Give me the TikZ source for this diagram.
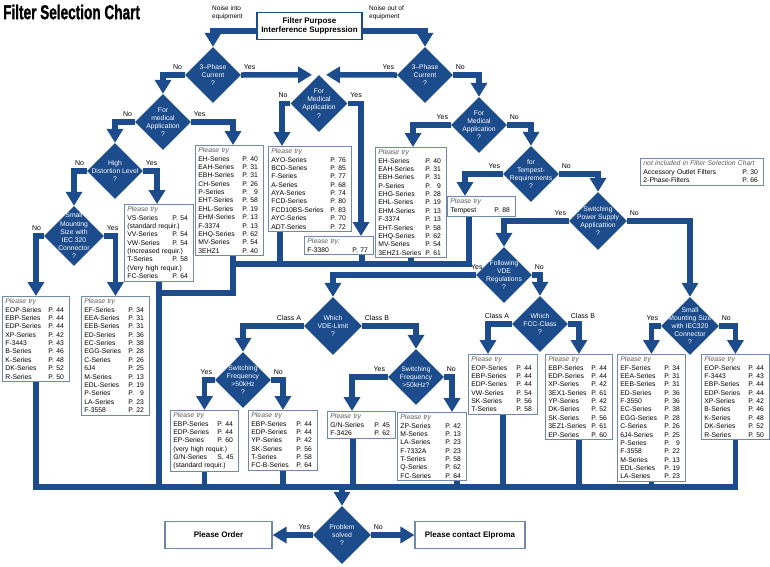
\documentclass[tikz,border=0pt]{standalone}
\usepackage{fontspec}
\setmainfont{Liberation Sans}
\newfontfamily\titlefont{Liberation Sans}[BoldFeatures={FakeBold=1.4}]
\usetikzlibrary{shapes.geometric, arrows.meta, calc}
\definecolor{chart-blue}{RGB}{28,76,140}
\definecolor{frame-blue}{RGB}{112,136,170}
\definecolor{try-gray}{RGB}{90,90,90}

% list entries of the result boxes
\newcommand\ptry[1][Please try]{\noindent{\color{try-gray}\itshape #1}}
\newcommand\ser[2]{\par\noindent\makebox[\linewidth][l]{#1\hfill\makebox[18pt][l]{#2}}}
\newcommand\xline[1]{\par\noindent #1}

\begin{document}
\begin{tikzpicture}[
    x=1pt, y=-1pt,
    % decision diamonds, text set as a centred label so the size stays fixed
    dia/.style={diamond, fill=chart-blue, inner sep=0pt, minimum width=#1, minimum height=#1},
    dia/.default=56pt,
    dtxt/.style={text=white, align=center, inner sep=0pt, font=\fontsize{6.8}{8.2}\selectfont},
    trybox/.style={draw=frame-blue, line width=0.9pt, fill=white, anchor=north west,
                   inner xsep=3pt, inner ysep=2.5pt, text width=#1, font=\fontsize{6.8}{8.35}\selectfont},
    yn/.style={font=\fontsize{7}{8}\selectfont, inner sep=0.5pt},
    bus/.style={draw=chart-blue, line width=5.5pt, line join=miter},
    arr/.style={bus, -{Triangle[width=16pt,length=14pt]}},
    endbox/.style={draw=frame-blue, line width=1.2pt, fill=white, minimum width=107pt, minimum height=27pt,
                   font=\fontsize{8}{9.6}\selectfont\bfseries}
]

\fill[white] (0,0) rectangle (770,566);
\useasboundingbox (0,0) rectangle (770,566);

% ===== HEAD =====
\node[anchor=west, inner sep=0pt, font=\titlefont\fontsize{20}{20}\selectfont\bfseries] (title) at (3,12)
    {\scalebox{0.68}[1]{Filter Selection Chart}};
\node[draw=chart-blue, line width=1.2pt, fill=white, minimum width=105pt, minimum height=27pt,
      align=center, inner sep=1pt, font=\fontsize{8}{9.4}\selectfont\bfseries] (purpose) at (309.5,26)
    {Filter Purpose\\Interference Suppression};
\node[anchor=west, align=left, inner sep=0pt, font=\fontsize{6.5}{7.5}\selectfont] (noisein) at (212,13) {Noise into\\equipment};
\node[anchor=west, align=left, inner sep=0pt, font=\fontsize{6.5}{7.5}\selectfont] (noiseout) at (369,13) {Noise out of\\equipment};

% ===== DECISIONS =====
\node[dia, label={[dtxt]center:3–Phase\\Current\\?}] (d1) at (213,75) {};
\node[dia, label={[dtxt]center:3–Phase\\Current\\?}] (dr1) at (425,75) {};
\node[dia=57pt, label={[dtxt]center:For\\Medical\\Application\\?}] (dm) at (319,103.5) {};
\node[dia, label={[dtxt]center:For\\medical\\Application\\?}] (d2) at (163,122) {};
\node[dia, label={[dtxt]center:High\\Distortion Level\\?}] (d3) at (115,171) {};
\node[dia=60pt, label={[dtxt]center:Small\\Mounting\\Size with\\IEC 320\\Connector\\?}] (d4) at (74,236) {};
\node[dia, label={[dtxt]center:For\\Medical\\Application\\?}] (dr2) at (479,125) {};
\node[dia, label={[dtxt]center:for\\Tempest-\\Requirements\\?}] (dr3) at (531,174) {};
\node[dia=58pt, label={[dtxt]center:Switching\\Power Supply\\Applicattion\\?}] (dr4) at (598,221) {};
\node[dia, label={[dtxt]center:Following\\VDE\\Regulations\\?}] (dr5) at (504,275) {};
\node[dia, label={[dtxt]center:Which\\FCC-Class\\?}] (dr6) at (540,324) {};
\node[dia=58pt, label={[dtxt]center:Small\\Mounting Size\\with IEC320\\Connector\\?}] (dmount) at (690,326) {};
\node[dia=58pt, label={[dtxt]center:Which\\VDE-Limit\\?}] (dvl) at (333,326) {};
\node[dia, label={[dtxt]center:Switching\\Frequency\\>50kHz\\?}] (dsf1) at (243,380) {};
\node[dia, label={[dtxt]center:Switching\\Frequency\\>50kHz?}] (dsf2) at (416,377) {};
\node[dia=58pt, label={[dtxt]center:Problem\\solved\\?}] (dps) at (342,535) {};

% branch labels
\foreach \d/\lw/\le in {d1/No/Yes, dr1/Yes/No, dm/No/Yes, d2/No/Yes, d3/No/Yes, d4/No/Yes,
                        dr2/Yes/No, dr3/Yes/No, dr4/Yes/No, dr6/Class A/Class B,
                        dmount/Yes/No, dvl/Class A/Class B, dsf1/Yes/No, dsf2/Yes/No, dps/Yes/No} {
    \node[yn, anchor=south east] (\d-w) at ([xshift=-2pt,yshift=5pt]\d.west) {\lw};
    \node[yn, anchor=south west] (\d-e) at ([xshift=2pt,yshift=5pt]\d.east) {\le};
}
\node[yn, anchor=south] (dr5-w) at ([xshift=1pt,yshift=5pt]dr5.west) {Yes};
\node[yn, anchor=south west] (dr5-e) at ([xshift=2pt,yshift=5pt]dr5.east) {No};

% ===== RESULT BOXES =====
\node[trybox=62pt] (ehl) at (195,145) {\ptry
    \ser{EH-Series}{P. 40}\ser{EAH-Series}{P. 31}\ser{EBH-Series}{P. 31}\ser{CH-Series}{P. 26}
    \ser{P-Series}{P. \phantom{0}9}\ser{EHT-Series}{P. 58}\ser{EHL-Series}{P. 19}\ser{EHM-Series}{P. 13}
    \ser{F-3374}{P. 13}\ser{EHQ-Series}{P. 62}\ser{MV-Series}{P. 54}\ser{3EHZ1}{P. 40}};
\node[trybox=77pt] (ayo) at (268,146) {\ptry
    \ser{AYO-Series}{P. 76}\ser{BCD-Series}{P. 85}\ser{F-Series}{P. 77}\ser{A-Series}{P. 68}
    \ser{AYA-Series}{P. 74}\ser{FCD-Series}{P. 80}\ser{FCD10BS-Series}{P. 83}\ser{AYC-Series}{P. 70}
    \ser{ADT-Series}{P. 72}};
\node[trybox=63pt] (f3380) at (304,236) {\ptry[Please try:]\ser{F-3380}{P. 77}};
\node[trybox=65pt] (ehr) at (375,147) {\ptry
    \ser{EH-Series}{P. 40}\ser{EAH-Series}{P. 31}\ser{EBH-Series}{P. 31}\ser{P-Series}{P. \phantom{0}9}
    \ser{EHG-Series}{P. 28}\ser{EHL-Series}{P. 19}\ser{EHM-Series}{P. 13}\ser{F-3374}{P. 13}
    \ser{EHT-Series}{P. 58}\ser{EHQ-Series}{P. 62}\ser{MV-Series}{P. 54}\ser{3EHZ1-Series}{P. 61}};
\node[trybox=62pt] (tmp) at (447,196) {\ptry\ser{Tempest}{P. 88}};
\node[trybox=63pt] (vs) at (124,204) {\ptry
    \ser{VS-Series}{P. 54}\xline{(standard requir.)}\ser{VV-Series}{P. 54}\ser{VW-Series}{P. 54}
    \xline{(Increased requir.)}\ser{T-Series}{P. 58}\xline{(Very high requir.)}\ser{FC-Series}{P. 64}};
\node[trybox=61pt] (eopl) at (2,296) {\ptry
    \ser{EOP-Series}{P. 44}\ser{EBP-Series}{P. 44}\ser{EDP-Series}{P. 44}\ser{XP-Series}{P. 42}
    \ser{F-3443}{P. 43}\ser{B-Series}{P. 46}\ser{K-Series}{P. 48}\ser{DK-Series}{P. 52}\ser{R-Series}{P. 50}};
\node[trybox=62pt] (efl) at (81,296) {\ptry
    \ser{EF-Series}{P. 34}\ser{EEA-Series}{P. 31}\ser{EEB-Series}{P. 31}\ser{ED-Series}{P. 36}
    \ser{EC-Series}{P. 38}\ser{EGG-Series}{P. 28}\ser{C-Series}{P. 26}\ser{6J4}{P. 25}\ser{M-Series}{P. 13}
    \ser{EDL-Series}{P. 19}\ser{P-Series}{P. \phantom{0}9}\ser{LA-Series}{P. 23}\ser{F-3558}{P. 22}};
\node[trybox=62pt] (ebp1) at (170,410) {\ptry
    \ser{EBP-Series}{P. 44}\ser{EDP-Series}{P. 44}\ser{EP-Series}{P. 60}\xline{(very high requir.)}
    \ser{G/N-Series}{S. 45}\xline{(standard requir.)}};
\node[trybox=63pt] (ebp2) at (248,410) {\ptry
    \ser{EBP-Series}{P. 44}\ser{EDP-Series}{P. 44}\ser{YP-Series}{P. 42}\ser{SK-Series}{P. 56}
    \ser{T-Series}{P. 58}\ser{FC-B-Series}{P. 64}};
\node[trybox=62pt] (gn) at (327,411) {\ptry\ser{G/N-Series}{P. 45}\ser{F-3426}{P. 62}};
\node[trybox=63pt] (zp) at (397,412) {\ptry
    \ser{ZP-Series}{P. 42}\ser{M-Series}{P. 13}\ser{LA-Series}{P. 23}\ser{F-7332A}{P. 23}
    \ser{T-Series}{P. 58}\ser{Q-Series}{P. 62}\ser{FC-Series}{P. 64}};
\node[trybox=63pt] (eopm) at (468,354) {\ptry
    \ser{EOP-Series}{P. 44}\ser{EBP-Series}{P. 44}\ser{EDP-Series}{P. 44}\ser{VW-Series}{P. 54}
    \ser{SK-Series}{P. 56}\ser{T-Series}{P. 58}};
\node[trybox=61pt] (ebprm) at (545,354) {\ptry
    \ser{EBP-Series}{P. 44}\ser{EDP-Series}{P. 44}\ser{XP-Series}{P. 42}\ser{3EX1-Series}{P. 61}
    \ser{YP-Series}{P. 42}\ser{DK-Series}{P. 52}\ser{SK-Series}{P. 56}\ser{3EZ1-Series}{P. 61}\ser{EP-Series}{P. 60}};
\node[trybox=62pt] (efr) at (617,354) {\ptry
    \ser{EF-Series}{P. 34}\ser{EEA-Series}{P. 31}\ser{EEB-Series}{P. 31}\ser{ED-Series}{P. 36}
    \ser{F-3550}{P. 36}\ser{EC-Series}{P. 38}\ser{EGG-Series}{P. 28}\ser{C-Series}{P. 26}
    \ser{6J4-Series}{P. 25}\ser{P-Series}{P. \phantom{0}9}\ser{F-3558}{P. 22}\ser{M-Series}{P. 13}
    \ser{EDL-Series}{P. 19}\ser{LA-Series}{P. 23}};
\node[trybox=62pt] (eopr) at (701,354) {\ptry
    \ser{EOP-Series}{P. 44}\ser{F-3443}{P. 43}\ser{EBP-Series}{P. 44}\ser{EDP-Series}{P. 44}
    \ser{XP-Series}{P. 42}\ser{B-Series}{P. 46}\ser{K-Series}{P. 48}\ser{DK-Series}{P. 52}\ser{R-Series}{P. 50}};

% side note
\node[trybox=117pt] (extra) at (640,158) {\ptry[not included in Filter Selection Chart]
    \ser{Accessory Outlet Filters}{P. 30}\ser{2-Phase-Filters}{P. 66}};

% final answers
\node[endbox] (order) at (218.5,535) {Please Order};
\node[endbox, minimum width=110pt] (contact) at (470,535) {Please contact Elproma};

% ===== DECISION ARROWS =====
\draw[arr] ([yshift=-5pt]purpose.west) -| (d1.north);
\draw[arr] ([yshift=-5pt]purpose.east) -| (dr1.north);
\draw[arr] (d1.east) -- ([xshift=-7pt]dm.north);
\draw[arr] (dr1.west) -- ([xshift=7pt]dm.north);
\draw[arr] (d1.west) -| (d2.north);
\draw[arr] (dr1.east) -| (dr2.north);
\draw[arr] (dm.west) -| ([xshift=14pt]ayo.north west);
\draw[arr] (dm.east) -| ([xshift=57pt]f3380.north west);
\draw[arr] (d2.west) -| (d3.north);
\draw[arr] (d2.east) -| ([xshift=38pt]ehl.north west);
\draw[arr] (d3.west) -| (d4.north);
\draw[arr] (d3.east) -| ([xshift=33pt]vs.north west);
\draw[arr] (d4.west) -| (eopl.north);
\draw[arr] (d4.east) -| (efl.north);
\draw[arr] (dr2.west) -| ([xshift=38pt]ehr.north west);
\draw[arr] (dr2.east) -| (dr3.north);
\draw[arr] (dr3.west) -| ([xshift=18pt]tmp.north west);
\draw[arr] (dr3.east) -| (dr4.north);
\draw[arr] (dr4.west) -| (dr5.north);
\draw[arr] (dr4.east) -| (dmount.north);
\draw[arr] (dr5.east) -| (dr6.north);
\draw[arr] (dr5.west) -| (dvl.north);
\draw[arr] (dr6.west) -| ([xshift=20pt]eopm.north west);
\draw[arr] (dr6.east) -| (ebprm.north);
\draw[arr] (dmount.west) -| (efr.north);
\draw[arr] (dmount.east) -| (eopr.north);
\draw[arr] (dvl.west) -| (dsf1.north);
\draw[arr] (dvl.east) -| (dsf2.north);
\draw[arr] (dsf1.west) -| (ebp1.north);
\draw[arr] (dsf1.east) -| (ebp2.north);
\draw[arr] (dsf2.west) -| ([xshift=25pt]gn.north west);
\draw[arr] (dsf2.east) -| ([xshift=55pt]zp.north west);

% ===== COLLECTING LINES =====
\coordinate (j1) at (233,264);
\coordinate (j2) at (233,293);
\coordinate (drop) at (342,487);

\draw[bus] ([xshift=22pt]tmp.south west) |- (j1) -- (j2) -| (vs.south);
\draw[bus] ([xshift=38pt]ehl.south west) |- (j1);
\draw[bus] ([xshift=12pt]ayo.south west) |- (j1);
\draw[bus] ([xshift=58pt]f3380.south west) |- (j1);
\draw[bus] (ehr.south) |- (j1);

\draw[bus] (eopl.south) |- (drop) -| (eopr.south);
\draw[bus] (vs.south) |- (drop);
\draw[bus] (ebp1.south) |- (drop);
\draw[bus] (ebp2.south) |- (drop);
\draw[bus] ([xshift=26pt]gn.south west) |- (drop);
\draw[bus] ([xshift=60pt]zp.south west) |- (drop);
\draw[bus] (eopm.south) |- (drop);
\draw[bus] (ebprm.south) |- (drop);
\draw[bus] (efr.south) |- (drop);

% ===== FINISH =====
\draw[arr] (drop) -- (dps.north);
\draw[arr] (dps.west) -- (order.east);
\draw[arr] (dps.east) -- (contact.west);

\end{tikzpicture}
\end{document}
